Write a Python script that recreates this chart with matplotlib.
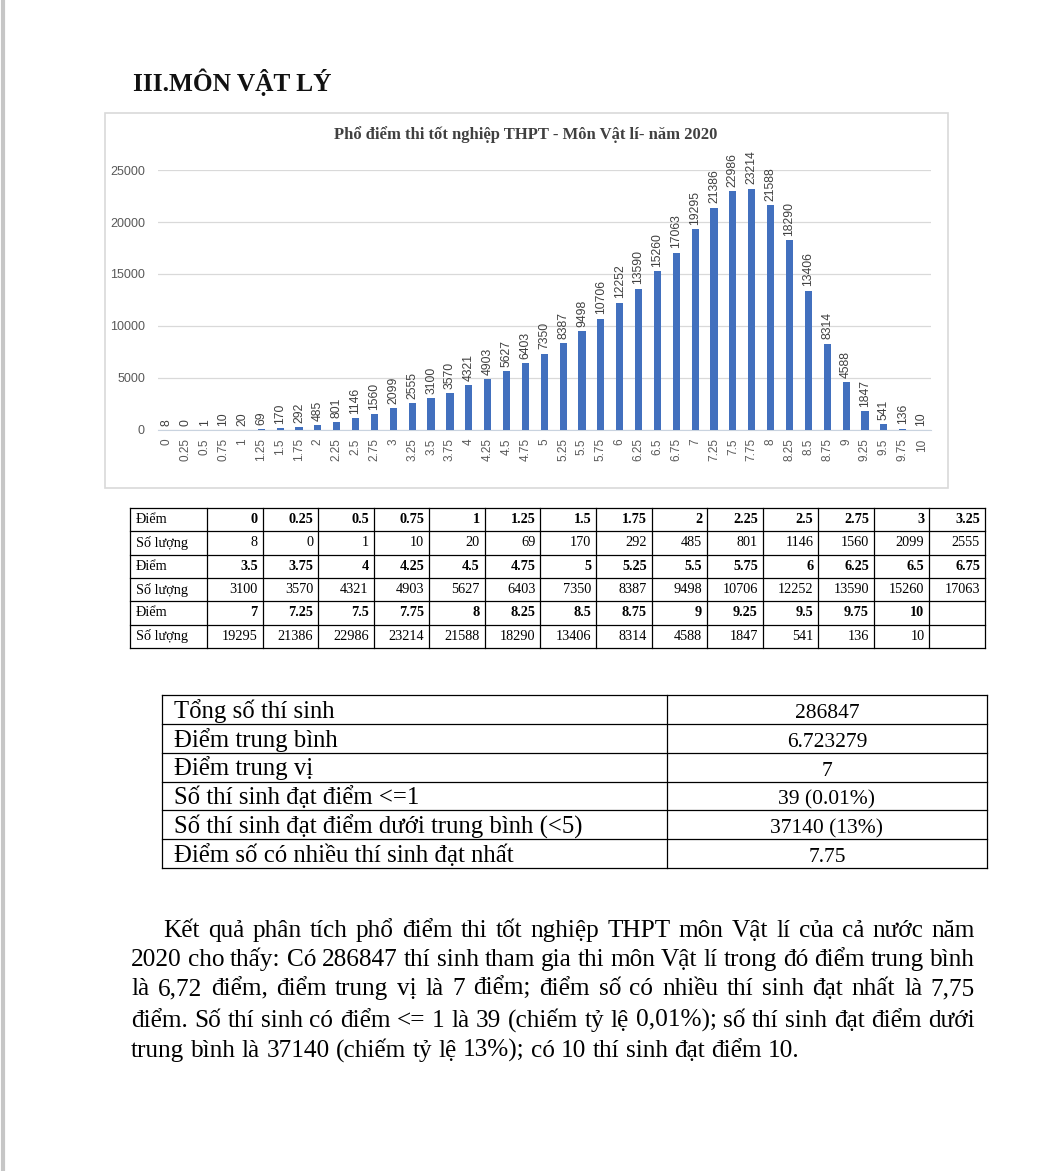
import matplotlib
matplotlib.use("Agg")
import matplotlib.pyplot as plt

# ---------------- data ----------------
scores = [0, 0.25, 0.5, 0.75, 1, 1.25, 1.5, 1.75, 2, 2.25, 2.5, 2.75, 3, 3.25,
          3.5, 3.75, 4, 4.25, 4.5, 4.75, 5, 5.25, 5.5, 5.75, 6, 6.25, 6.5, 6.75,
          7, 7.25, 7.5, 7.75, 8, 8.25, 8.5, 8.75, 9, 9.25, 9.5, 9.75, 10]
counts = [8, 0, 1, 10, 20, 69, 170, 292, 485, 801, 1146, 1560, 2099, 2555,
          3100, 3570, 4321, 4903, 5627, 6403, 7350, 8387, 9498, 10706, 12252, 13590, 15260, 17063,
          19295, 21386, 22986, 23214, 21588, 18290, 13406, 8314, 4588, 1847, 541, 136, 10]
score_labels = [("%g" % s) for s in scores]

header = "III.MÔN VẬT LÝ"
chart_title = "Phổ điểm thi tốt nghiệp THPT - Môn Vật lí- năm 2020"
row_label_score = "Điểm"
row_label_count = "Số lượng"

summary_labels = ["Tổng số thí sinh", "Điểm trung bình", "Điểm trung vị",
                  "Số thí sinh đạt điểm <=1", "Số thí sinh đạt điểm dưới trung bình (<5)",
                  "Điểm số có nhiều thí sinh đạt nhất"]
summary_values = ["286847", "6.723279", "7", "39 (0.01%)", "37140 (13%)", "7.75"]

paragraph_lines = [
    "Kết quả phân tích phổ điểm thi tốt nghiệp THPT môn Vật lí của cả nước năm",
    "2020 cho thấy: Có 286847 thí sinh tham gia thi môn Vật lí trong đó điểm trung bình",
    "là 6,72 điểm, điểm trung vị là 7 điểm; điểm số có nhiều thí sinh đạt nhất là 7,75",
    "điểm. Số thí sinh có điểm <= 1 là 39 (chiếm tỷ lệ 0,01%); số thí sinh đạt điểm dưới",
    "trung bình là 37140 (chiếm tỷ lệ 13%); có 10 thí sinh đạt điểm 10.",
]

# ---------------- figure ----------------
W, H = 1053, 1171
fig = plt.figure(figsize=(W / 100, H / 100), dpi=100)
fig.patch.set_facecolor("white")
page = fig.add_axes([0, 0, 1, 1])
page.set_xlim(0, W)
page.set_ylim(H, 0)
page.axis("off")

SERIF = "Liberation Serif"
SANS = "Liberation Sans"

# left page edge
page.plot([3, 3], [0, H], color="#c6c6c6", lw=3, solid_capstyle="butt")

# header
page.text(133, 82, header, family=SERIF, weight="bold", fontsize=18.3,
          ha="left", va="center", color="#111111")

# chart frame
page.add_patch(plt.Rectangle((105, 113), 843, 375, fill=False, ec="#d9d9d9", lw=1.2))
page.text(526, 135, chart_title, family=SERIF, weight="bold", fontsize=12,
          ha="center", va="center", color="#404040")


def fx(x):
    return x / W


def fy(y):
    return 1 - y / H


ax = fig.add_axes([fx(157.5), fy(430), (931 - 157.5) / W, (430 - 170) / H])
ax.set_facecolor("none")
xs = list(range(len(counts)))
bars = ax.bar(xs, counts, width=0.38, color="#4270BE", zorder=3)
ax.set_xlim(-0.5, len(counts) - 0.5)
ax.set_ylim(0, 25000)
ax.set_yticks(range(0, 25001, 5000))
ax.set_yticklabels([str(v) for v in range(0, 25001, 5000)], family=SANS, fontsize=9, color="#595959")
ax.set_xticks(xs)
ax.set_xticklabels(score_labels, rotation=90, family=SANS, fontsize=8.5, color="#595959")
ax.grid(axis="y", color="#d9d9d9", lw=0.9)
ax.set_axisbelow(True)
for s in ["top", "right", "left"]:
    ax.spines[s].set_visible(False)
ax.spines["bottom"].set_color("#c9d3df")
ax.tick_params(length=0)
ax.tick_params(axis="x", pad=6)
ax.tick_params(axis="y", pad=9)
labs = ax.bar_label(bars, labels=[str(c) for c in counts], rotation=90, padding=3,
                    fontsize=8.7, color="#404040", family=SANS)
for t in labs:
    t.set_clip_on(False)

# ---------------- table 1 ----------------
t1_x0, t1_x1, t1_y0, t1_y1 = 130, 985, 508, 648
first_w = 77
ncol = 14
col_w = (t1_x1 - t1_x0 - first_w) / ncol
row_h = (t1_y1 - t1_y0) / 6
lw_t = 0.9
TFS = 10.3
for i in range(7):
    y = t1_y0 + i * row_h
    page.plot([t1_x0, t1_x1], [y, y], color="black", lw=lw_t)
page.plot([t1_x0, t1_x0], [t1_y0, t1_y1], color="black", lw=lw_t)
for j in range(ncol + 1):
    x = t1_x0 + first_w + j * col_w
    page.plot([x, x], [t1_y0, t1_y1], color="black", lw=lw_t)

for b in range(3):
    chunk_s = score_labels[b * ncol:(b + 1) * ncol]
    chunk_c = counts[b * ncol:(b + 1) * ncol]
    ys = t1_y0 + (2 * b + 0.5) * row_h
    yc = t1_y0 + (2 * b + 1.5) * row_h
    page.text(t1_x0 + 6, ys, row_label_score, family=SERIF, fontsize=TFS, ha="left", va="center")
    page.text(t1_x0 + 6, yc, row_label_count, family=SERIF, fontsize=TFS, ha="left", va="center")
    for j, (s, c) in enumerate(zip(chunk_s, chunk_c)):
        xr = t1_x0 + first_w + (j + 1) * col_w - 5
        page.text(xr, ys, s, family=SERIF, weight="bold", fontsize=TFS, ha="right", va="center")
        page.text(xr, yc, str(c), family=SERIF, fontsize=TFS, ha="right", va="center")

# ---------------- table 2 ----------------
t2_x0, t2_x1, t2_xm, t2_y0, t2_y1 = 162, 987, 667, 695, 868
rh2 = (t2_y1 - t2_y0) / 6
for i in range(7):
    y = t2_y0 + i * rh2
    page.plot([t2_x0, t2_x1], [y, y], color="black", lw=lw_t)
for x in (t2_x0, t2_xm, t2_x1):
    page.plot([x, x], [t2_y0, t2_y1], color="black", lw=lw_t)
for i, (lab, val) in enumerate(zip(summary_labels, summary_values)):
    yb = t2_y0 + (i + 1) * rh2 - 6
    page.text(t2_x0 + 12, yb, lab, family=SERIF, fontsize=17.8, ha="left", va="baseline")
    page.text((t2_xm + t2_x1) / 2, yb, val, family=SERIF, fontsize=15.5, ha="center", va="baseline")

# ---------------- paragraph (justified) ----------------
renderer = fig.canvas.get_renderer()
PFS = 18.2
baselines = [937, 966, 995, 1027, 1057]
starts = [163, 131, 131, 131, 131]
right = 975
for k, line in enumerate(paragraph_lines):
    words = line.split(" ")
    objs = [page.text(0, baselines[k], w, family=SERIF, fontsize=PFS, ha="left", va="baseline")
            for w in words]
    widths = [o.get_window_extent(renderer).width for o in objs]
    if k < len(paragraph_lines) - 1:
        gap = (right - starts[k] - sum(widths)) / (len(words) - 1)
    else:
        gap = PFS * 100 / 72 * 0.25
    x = starts[k]
    for o, w in zip(objs, widths):
        o.set_x(x)
        x += w + gap

fig.savefig("out.png", dpi=100)
